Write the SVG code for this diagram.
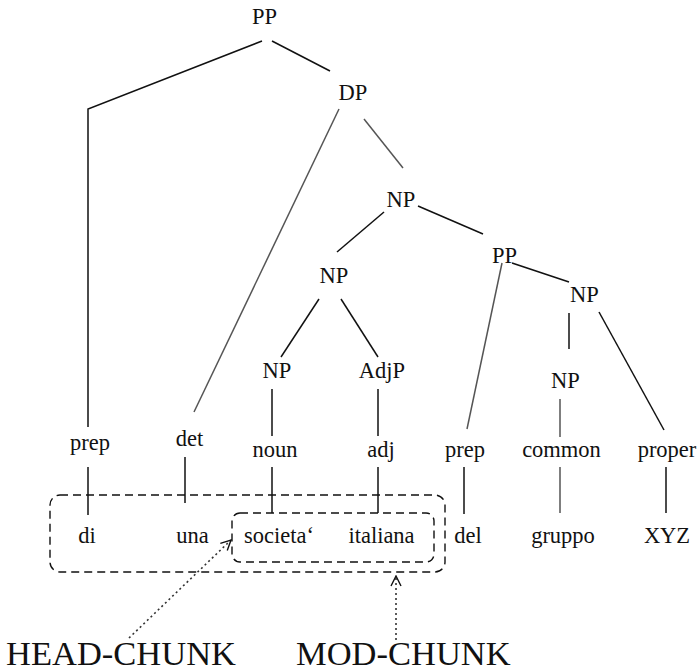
<svg xmlns="http://www.w3.org/2000/svg" width="698" height="672" viewBox="0 0 698 672">
  <style>
    text { font-family: "Liberation Serif", "Times New Roman", serif; fill: #111; text-anchor: middle; }
    .lbl { font-size: 22.5px; }
    .big { font-size: 34.5px; text-anchor: start; }
    .edge { stroke: #111; stroke-width: 1.5; fill: none; }
    .soft { stroke: #555; }
    .chunk { stroke: #111; stroke-width: 1.4; fill: none; stroke-dasharray: 8 5; }
    .ptr { stroke: #333; stroke-width: 1.6; fill: none; stroke-dasharray: 2 3; }
  </style>
  <defs>
    <marker id="openHead" viewBox="0 0 12 12" refX="11" refY="6" markerWidth="12" markerHeight="12" markerUnits="userSpaceOnUse" orient="auto">
      <path d="M1,1 L11,6 L1,11" fill="none" stroke="#111" stroke-width="1.4"/>
    </marker>
  </defs>
  <rect width="698" height="672" fill="#fff"/>

  <!-- tree edges -->
  <g id="connectors">
    <polyline class="edge" points="262,41 88,109 88,427"/>
    <line class="edge" x1="272" y1="41" x2="330" y2="71"/>
    <line class="edge soft" x1="339" y1="109" x2="194" y2="412"/>
    <line class="edge soft" x1="364" y1="119" x2="403" y2="168"/>
    <line class="edge" x1="384" y1="212" x2="337" y2="252"/>
    <line class="edge" x1="418" y1="206" x2="483" y2="234"/>
    <line class="edge soft" x1="502" y1="263" x2="467" y2="429"/>
    <line class="edge" x1="512" y1="263" x2="569" y2="282"/>
    <line class="edge" x1="319" y1="299" x2="281" y2="357"/>
    <line class="edge" x1="341" y1="299" x2="378" y2="357"/>
    <line class="edge" x1="569" y1="313" x2="569" y2="349"/>
    <line class="edge" x1="599" y1="312" x2="664" y2="430"/>
    <line class="edge" x1="272" y1="389" x2="272" y2="436"/>
    <line class="edge" x1="378" y1="389" x2="378" y2="436"/>
    <line class="edge soft" x1="560" y1="399" x2="560" y2="437"/>
    <!-- pos tags to words -->
    <line class="edge" x1="88" y1="467" x2="88" y2="515"/>
    <line class="edge" x1="185" y1="457" x2="185" y2="503"/>
    <line class="edge" x1="272" y1="467" x2="272" y2="513"/>
    <line class="edge" x1="378" y1="467" x2="378" y2="513"/>
    <line class="edge" x1="464" y1="467" x2="464" y2="514"/>
    <line class="edge soft" x1="560" y1="467" x2="560" y2="513"/>
    <line class="edge" x1="666" y1="467" x2="666" y2="513"/>
  </g>

  <!-- phrase nodes -->
  <g id="pp-root"><text class="lbl" x="264.5" y="24">PP</text></g>
  <g id="dp"><text class="lbl" x="353" y="100">DP</text></g>
  <g id="np-top"><text class="lbl" x="401" y="207">NP</text></g>
  <g id="np-mid"><text class="lbl" x="334" y="283">NP</text></g>
  <g id="pp-del"><text class="lbl" x="504.5" y="263">PP</text></g>
  <g id="np-right"><text class="lbl" x="584.5" y="302">NP</text></g>
  <g id="np-noun"><text class="lbl" x="277" y="378">NP</text></g>
  <g id="adjp"><text class="lbl" x="382" y="378">AdjP</text></g>
  <g id="np-common"><text class="lbl" x="565.5" y="388">NP</text></g>

  <!-- part-of-speech nodes -->
  <g id="pos-prep1"><text class="lbl" x="90" y="450">prep</text></g>
  <g id="pos-det"><text class="lbl" x="189.5" y="446">det</text></g>
  <g id="pos-noun"><text class="lbl" x="275" y="457">noun</text></g>
  <g id="pos-adj"><text class="lbl" x="381" y="457">adj</text></g>
  <g id="pos-prep2"><text class="lbl" x="465" y="457">prep</text></g>
  <g id="pos-common"><text class="lbl" x="561.5" y="457">common</text></g>
  <g id="pos-proper"><text class="lbl" x="667" y="457">proper</text></g>

  <!-- words -->
  <g id="w-di"><text class="lbl" x="87" y="543">di</text></g>
  <g id="w-una"><text class="lbl" x="192.5" y="543">una</text></g>
  <g id="w-societa"><text class="lbl" x="279" y="543">societa‘</text></g>
  <g id="w-italiana"><text class="lbl" x="381.5" y="543">italiana</text></g>
  <g id="w-del"><text class="lbl" x="468" y="543">del</text></g>
  <g id="w-gruppo"><text class="lbl" x="563" y="543">gruppo</text></g>
  <g id="w-xyz"><text class="lbl" x="667" y="543">XYZ</text></g>

  <!-- chunk boxes -->
  <g id="head-chunk-box"><rect class="chunk" x="50" y="495" width="395" height="77" rx="10"/></g>
  <g id="mod-chunk-box"><rect class="chunk" x="232" y="513" width="202" height="49" rx="8"/></g>

  <!-- chunk pointers -->
  <g id="pointers">
    <line class="ptr" x1="129" y1="638" x2="231" y2="540" marker-end="url(#openHead)"/>
    <line class="ptr" x1="396" y1="640" x2="396" y2="576" marker-end="url(#openHead)"/>
  </g>
  <g id="head-chunk-label"><text class="big" x="6" y="665">HEAD-CHUNK</text></g>
  <g id="mod-chunk-label"><text class="big" x="296" y="665">MOD-CHUNK</text></g>
</svg>
